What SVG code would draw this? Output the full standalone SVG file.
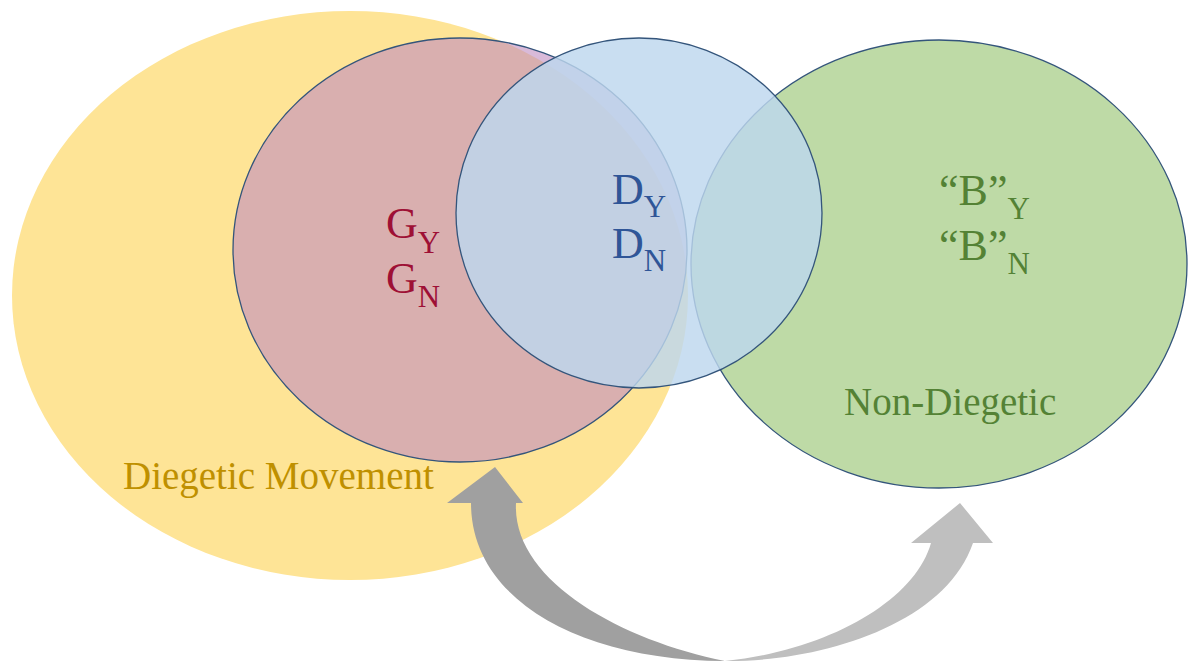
<svg xmlns="http://www.w3.org/2000/svg" width="1193" height="663" viewBox="0 0 1193 663">
<style>
.edge{stroke:#34557B;stroke-width:1.3}
.t{font-family:"Liberation Serif","Times New Roman",serif;font-size:44px}
.s{font-size:31px}
.lbl{font-family:"Liberation Serif","Times New Roman",serif;font-size:39px}
</style>
<rect width="1193" height="663" fill="#FFFFFF"/>
<g id="diegetic-movement">
<ellipse cx="350" cy="295.5" rx="338" ry="284.5" fill="#FEE496"/>
</g>
<g id="g-set">
<ellipse class="edge" cx="460" cy="250" rx="227" ry="212" fill="#C08CBF" fill-opacity="0.6"/>
</g>
<g id="non-diegetic">
<ellipse class="edge" cx="939" cy="264" rx="248" ry="224" fill="#BEDAA6"/>
</g>
<g id="d-set">
<ellipse class="edge" cx="639" cy="213" rx="183" ry="175" fill="#BDD7EE" fill-opacity="0.82"/>
</g>
<g id="connectors">
<path d="M471,503 C471,600 580,660 725,661 C620,640 512,580 516,503 L523,503 L495,467 L447,503 Z" fill="#A0A0A0"/>
<path d="M725,661 C820,662 945,625 973,543 L993,543 L960,503 L911,543 L931,543 C915,600 830,650 725,661 Z" fill="#BFBFBF"/>
</g>
<g id="labels">
<text class="t" x="386" y="238" fill="#9E1035">G<tspan class="s" dy="15">Y</tspan></text>
<text class="t" x="386" y="293" fill="#9E1035">G<tspan class="s" dy="14">N</tspan></text>
<text class="t" x="612" y="204" fill="#2F5597">D<tspan class="s" dy="13">Y</tspan></text>
<text class="t" x="612" y="258" fill="#2F5597">D<tspan class="s" dy="13">N</tspan></text>
<text class="t" x="939" y="205" fill="#548235">“B”<tspan class="s" dy="14">Y</tspan></text>
<text class="t" x="939" y="260" fill="#548235">“B”<tspan class="s" dy="14">N</tspan></text>
<text class="lbl" x="123" y="489" fill="#BF9000">Diegetic Movement</text>
<text class="lbl" x="844" y="415" fill="#548235">Non-Diegetic</text>
</g>
</svg>
